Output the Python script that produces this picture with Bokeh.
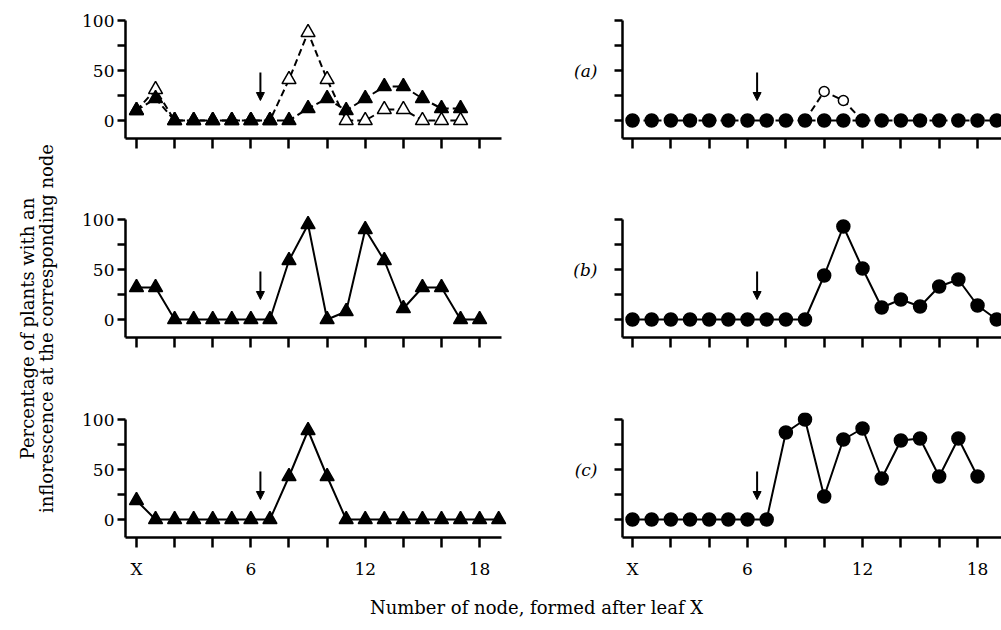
import math
from bokeh.plotting import figure
from bokeh.layouts import row, column
from bokeh.models import Range1d, FixedTicker, Arrow, NormalHead
from bokeh.core.properties import value
from bokeh.embed import file_html
from bokeh.resources import INLINE

# ---------------- data ----------------
nodes_a_left = [0, 1, 2, 3, 4, 5, 6, 7, 8, 9, 10, 11, 12, 13, 14, 15, 16, 17]
a_left_filled = [10, 22, 0, 0, 0, 0, 0, 0, 0, 12, 22, 10, 22, 34, 34, 22, 12, 12]
a_left_open = [10, 31, 0, 0, 0, 0, 0, 0, 41, 88, 41, 0, 0, 11, 11, 0, 0, 0]

nodes_b_left = [0, 1, 2, 3, 4, 5, 6, 7, 8, 9, 10, 11, 12, 13, 14, 15, 16, 17, 18]
b_left = [32, 32, 0, 0, 0, 0, 0, 0, 59, 95, 0, 8, 90, 59, 11, 32, 32, 0, 0]

nodes_c_left = [0, 1, 2, 3, 4, 5, 6, 7, 8, 9, 10, 11, 12, 13, 14, 15, 16, 17, 18, 19]
c_left = [19, 0, 0, 0, 0, 0, 0, 0, 43, 89, 43, 0, 0, 0, 0, 0, 0, 0, 0, 0]

nodes_a_right = [0, 1, 2, 3, 4, 5, 6, 7, 8, 9, 10, 11, 12, 13, 14, 15, 16, 17, 18, 19]
a_right_filled = [0, 0, 0, 0, 0, 0, 0, 0, 0, 0, 0, 0, 0, 0, 0, 0, 0, 0, 0, 0]
nodes_a_right_open = [9, 10, 11, 12]
a_right_open = [0, 29, 20, 0]

nodes_b_right = [0, 1, 2, 3, 4, 5, 6, 7, 8, 9, 10, 11, 12, 13, 14, 15, 16, 17, 18, 19]
b_right = [0, 0, 0, 0, 0, 0, 0, 0, 0, 0, 44, 93, 51, 12, 20, 13, 33, 40, 14, 0]

nodes_c_right = [0, 1, 2, 3, 4, 5, 6, 7, 8, 9, 10, 11, 12, 13, 14, 15, 16, 17, 18]
c_right = [0, 0, 0, 0, 0, 0, 0, 0, 87, 100, 23, 80, 91, 41, 79, 81, 43, 81, 43]

arrow_node = 6.5
arrow_top = 48
arrow_tip = 20

x_ticks = [0, 2, 4, 6, 8, 10, 12, 14, 16, 18]
x_tick_labels = {0: "X", 6: "6", 12: "12", 18: "18"}
y_ticks = [0, 50, 100]
y_minor_ticks = [25, 75]
panel_labels = ["(a)", "(b)", "(c)"]
y_title_lines = ["Percentage of plants with an", "inflorescence at the corresponding node"]
x_title = "Number of node, formed after leaf X"

FONT = "DejaVu Serif"
AXW = 2.5

# row geometry: (top border, bottom border)
row_borders = [(13, 37), (37, 38), (37, 50)]
FRAME_H = 125
Y_START, Y_END = -18, 107


def make_panel(col, r):
    top, bottom = row_borders[r]
    if col == 0:
        xr = Range1d(-0.577, 19.62)
        width = 65 + 385
        mb_left, mb_right = 65, 0
    else:
        xr = Range1d(-0.522, 19.25)
        width = 112 + 379
        mb_left, mb_right = 112, 0
    p = figure(width=width, height=top + FRAME_H + bottom,
               x_range=xr, y_range=Range1d(Y_START, Y_END),
               toolbar_location=None, output_backend="svg",
               min_border_left=mb_left, min_border_right=mb_right,
               min_border_top=top, min_border_bottom=bottom)
    p.outline_line_color = None
    p.grid.visible = False
    p.background_fill_color = "white"
    p.border_fill_color = "white"

    xa = p.xaxis[0]
    xa.ticker = FixedTicker(ticks=x_ticks, minor_ticks=[])
    over = {t: "" for t in x_ticks}
    if r == 2:
        over.update(x_tick_labels)
    xa.major_label_overrides = over
    xa.axis_line_width = AXW
    xa.major_tick_line_width = AXW
    xa.major_tick_out = 10
    xa.major_tick_in = 0
    xa.minor_tick_out = 0
    xa.minor_tick_in = 0
    xa.major_label_standoff = 11
    xa.major_label_text_font = FONT
    xa.major_label_text_font_size = "17px"
    xa.major_label_text_color = "black"
    if col == 0:
        xa.bounds = (-0.577, 19.15)

    ya = p.yaxis[0]
    ya.ticker = FixedTicker(ticks=y_ticks, minor_ticks=y_minor_ticks)
    ya.bounds = (Y_START, 100)
    ya.axis_line_width = AXW
    ya.major_tick_line_width = AXW
    ya.minor_tick_line_width = AXW
    ya.major_tick_out = 8
    ya.minor_tick_out = 8
    ya.major_tick_in = 0
    ya.minor_tick_in = 0
    ya.major_label_text_font = FONT
    ya.major_label_text_font_size = "17px"
    ya.major_label_text_color = "black"
    if col == 0:
        ya.major_label_standoff = 3
        ya.major_label_overrides = {0: "0", 50: "50", 100: "100"}
    else:
        ya.major_label_standoff = 17
        ya.major_label_overrides = {0: "", 50: panel_labels[r], 100: ""}
        ya.major_label_text_font_style = "italic"

    p.add_layout(Arrow(end=NormalHead(size=8, fill_color="black", line_color="black", line_width=1),
                       x_start=arrow_node, y_start=arrow_top, x_end=arrow_node, y_end=arrow_tip,
                       line_width=2, line_color="black"))
    return p


def tri(p, x, y, filled=True):
    p.scatter(x, y, marker="triangle", size=14, line_color="black", line_width=1.5,
              fill_color="black" if filled else "white")


def circ(p, x, y, filled=True):
    p.scatter(x, y, marker="circle", size=13 if filled else 10, line_color="black",
              line_width=1.5, fill_color="black" if filled else "white")


DASH = "7 4"
LW = 2

# left column
L1 = make_panel(0, 0)
L1.line(nodes_a_left, a_left_open, line_color="black", line_width=LW, line_dash=DASH)
L1.line(nodes_a_left, a_left_filled, line_color="black", line_width=LW, line_dash=DASH)
tri(L1, nodes_a_left, a_left_open, filled=False)
tri(L1, nodes_a_left, a_left_filled, filled=True)

L2 = make_panel(0, 1)
L2.line(nodes_b_left, b_left, line_color="black", line_width=LW)
tri(L2, nodes_b_left, b_left)

L3 = make_panel(0, 2)
L3.line(nodes_c_left, c_left, line_color="black", line_width=LW)
tri(L3, nodes_c_left, c_left)

# right column
R1 = make_panel(1, 0)
R1.line(nodes_a_right_open, a_right_open, line_color="black", line_width=LW, line_dash=DASH)
R1.line(nodes_a_right, a_right_filled, line_color="black", line_width=LW, line_dash=DASH)
circ(R1, nodes_a_right_open, a_right_open, filled=False)
circ(R1, nodes_a_right, a_right_filled)

R2 = make_panel(1, 1)
R2.line(nodes_b_right, b_right, line_color="black", line_width=LW)
circ(R2, nodes_b_right, b_right)

R3 = make_panel(1, 2)
R3.line(nodes_c_right, c_right, line_color="black", line_width=LW)
circ(R3, nodes_c_right, c_right)

# y title strip
YL_W, YL_H = 60, 587
yl = figure(width=YL_W, height=YL_H, x_range=Range1d(0, YL_W), y_range=Range1d(0, YL_H),
            x_axis_type=None, y_axis_type=None, toolbar_location=None, output_backend="svg",
            min_border=0)
yl.outline_line_color = None
yl.grid.visible = False
yl.text(x=[27, 46], y=[YL_H - 328, YL_H - 328], text=y_title_lines, angle=math.pi / 2,
        text_align="center", text_baseline="middle", text_font=value(FONT),
        text_font_size="18px", text_color="black")

# x title strip
XL_W, XL_H = 1001, 43
xl = figure(width=XL_W, height=XL_H, x_range=Range1d(0, XL_W), y_range=Range1d(0, XL_H),
            x_axis_type=None, y_axis_type=None, toolbar_location=None, output_backend="svg",
            min_border=0)
xl.outline_line_color = None
xl.grid.visible = False
xl.text(x=[536], y=[XL_H - 20], text=[x_title], text_align="center", text_baseline="middle",
        text_font=value(FONT), text_font_size="18px", text_color="black")

layout = column(row(yl, column(L1, L2, L3), column(R1, R2, R3)), xl)

html = file_html(layout, INLINE, title="chart")
with open("out.html", "w") as f:
    f.write(html)
